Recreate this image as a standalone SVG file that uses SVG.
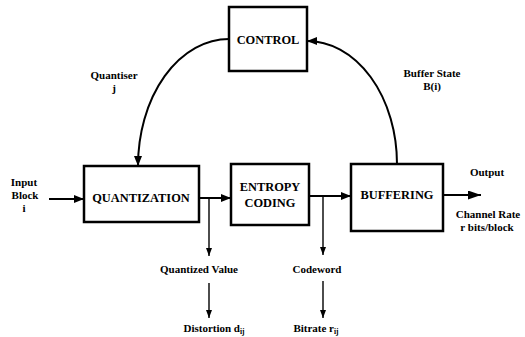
<svg xmlns="http://www.w3.org/2000/svg" width="525" height="337" viewBox="0 0 525 337">
  <defs>
    <marker id="ah" viewBox="0 0 10 8" refX="10" refY="4" markerWidth="10" markerHeight="8" markerUnits="userSpaceOnUse" orient="auto">
      <path d="M0,0 L10,4 L0,8 Z" fill="#000"/>
    </marker>
    <marker id="ahBig" viewBox="0 0 13 9" refX="13" refY="4.5" markerWidth="13" markerHeight="9" markerUnits="userSpaceOnUse" orient="auto">
      <path d="M0,0 L13,4.5 L0,9 Z" fill="#000"/>
    </marker>
    <marker id="ahSmall" viewBox="0 0 8 6" refX="8" refY="3" markerWidth="8" markerHeight="6" markerUnits="userSpaceOnUse" orient="auto">
      <path d="M0,0 L8,3 L0,6 Z" fill="#000"/>
    </marker>
  </defs>
  <style>
    .box { fill: #fff; stroke: #000; stroke-width: 2.5; }
    .wire { fill: none; stroke: #000; stroke-width: 2; }
    .thin { fill: none; stroke: #000; stroke-width: 1.4; }
    text { font-family: "Liberation Serif", "Times New Roman", serif; font-weight: bold; fill: #000; text-anchor: middle; }
    .blk { font-size: 12.4px; }
    .lbl { font-size: 11px; }
    .sub { font-size: 7.5px; }
  </style>
  <rect width="525" height="337" fill="#fff"/>

  <!-- connectors -->
  <g id="connectors">
    <path class="wire" d="M229,39 A91,127 0 0 0 138,166" marker-end="url(#ah)"/>
    <path class="wire" d="M397,164 A90,123 0 0 0 307,41" marker-end="url(#ah)"/>
    <line class="wire" x1="49" y1="199" x2="84" y2="199" marker-end="url(#ah)"/>
    <line class="wire" x1="199" y1="198" x2="231" y2="198" marker-end="url(#ah)"/>
    <line class="wire" x1="309" y1="196" x2="351" y2="196" marker-end="url(#ah)"/>
    <line class="wire" x1="443" y1="195" x2="481" y2="195" marker-end="url(#ahBig)"/>
    <line class="thin" x1="209" y1="198" x2="209" y2="256" marker-end="url(#ahSmall)"/>
    <line class="thin" x1="323" y1="196" x2="323" y2="255" marker-end="url(#ahSmall)"/>
    <line class="thin" x1="209" y1="283" x2="209" y2="318" marker-end="url(#ahSmall)"/>
    <line class="thin" x1="323" y1="281" x2="323" y2="318" marker-end="url(#ahSmall)"/>
  </g>

  <!-- blocks -->
  <g id="control">
    <rect class="box" x="229" y="7" width="78" height="64"/>
    <text class="blk" x="268" y="44">CONTROL</text>
  </g>
  <g id="quantization">
    <rect class="box" x="84" y="166" width="115" height="56"/>
    <text class="blk" x="141" y="202">QUANTIZATION</text>
  </g>
  <g id="entropy-coding">
    <rect class="box" x="231" y="164" width="78" height="61"/>
    <text class="blk" x="270" y="191">ENTROPY</text>
    <text class="blk" x="270" y="207">CODING</text>
  </g>
  <g id="buffering">
    <rect class="box" x="351" y="164" width="92" height="67"/>
    <text class="blk" x="397" y="199">BUFFERING</text>
  </g>

  <!-- labels -->
  <g id="labels">
    <text class="lbl" x="24" y="186">Input</text>
    <text class="lbl" x="25" y="199">Block</text>
    <text class="lbl" x="24" y="212">i</text>
    <text class="lbl" x="114" y="79">Quantiser</text>
    <text class="lbl" x="114" y="92">j</text>
    <text class="lbl" x="432" y="77">Buffer State</text>
    <text class="lbl" x="432" y="90">B(i)</text>
    <text class="lbl" x="487" y="176">Output</text>
    <text class="lbl" x="488" y="218">Channel Rate</text>
    <text class="lbl" x="487" y="231">r bits/block</text>
    <text class="lbl" x="199" y="273">Quantized Value</text>
    <text class="lbl" x="317" y="273">Codeword</text>
    <text class="lbl" x="214" y="332">Distortion d<tspan class="sub" dy="2">ij</tspan></text>
    <text class="lbl" x="316" y="332">Bitrate r<tspan class="sub" dy="2">ij</tspan></text>
  </g>
</svg>
